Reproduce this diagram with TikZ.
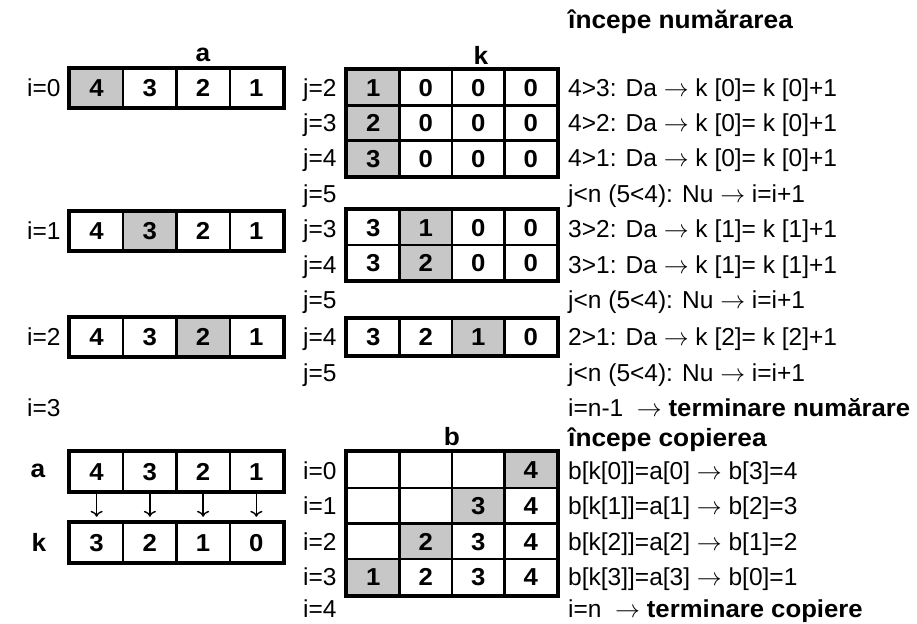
\documentclass[tikz,border=0pt]{standalone}
\usepackage{fontspec}
\setmainfont{Liberation Sans}[BoldFeatures={FakeStretch=1.05}]
\usetikzlibrary{arrows.meta}

% one row of cells: name, cell width, row height, x left, y top, value/shade list
\newcommand{\cellrow}[6]{%
  \foreach \v/\s [count=\c from 0] in {#6}
    \node[cellbox,minimum width=#2pt,minimum height=#3pt,\s]
      (#1-\c) at ({#4+(\c+0.5)*#2},{#5+0.5*#3}) {\v};
}

\tikzset{
  txt/.style={anchor=base west, inner sep=0pt, font=\fontsize{24.5}{28}\selectfont},
  ttl/.style={inner sep=0pt, font=\fontsize{25}{29}\selectfont\bfseries},
  cellbox/.style={draw, line width=2.4pt, inner sep=0pt,
    text height=17.6pt, text depth=0pt,
    font=\fontsize{24.5}{28}\selectfont\bfseries},
  hl/.style={fill=black!22},
  frame/.style={draw, line width=3.6pt},
  down/.style={line width=1.4pt, -{Computer Modern Rightarrow[length=6pt,width=12pt]},
    shorten <=2pt, shorten >=5pt},
}

\begin{document}
\begin{tikzpicture}[x=1pt,y=-1pt]
\useasboundingbox (0,0) rectangle (917,623);

% ---- counting phase ----
\node[ttl,anchor=base west] (hcount) at (568,28.5) {începe numărarea};
\node[ttl] (ta) at (203,55) {a};
\node[ttl] (tk) at (481,55) {k};

% array a for i=0,1,2
\cellrow{a0}{53.25}{38}{70}{69}{4/hl,3/,2/,1/}
\draw[frame] (a0-0.north west) rectangle (a0-3.south east);
\cellrow{a1}{53.25}{38}{70}{212}{4/,3/hl,2/,1/}
\draw[frame] (a1-0.north west) rectangle (a1-3.south east);
\cellrow{a2}{53.25}{38}{70}{318}{4/,3/,2/hl,1/}
\draw[frame] (a2-0.north west) rectangle (a2-3.south east);

% array k while counting
\cellrow{k1r0}{52.5}{35.33}{347}{70}{1/hl,0/,0/,0/}
\cellrow{k1r1}{52.5}{35.33}{347}{105.33}{2/hl,0/,0/,0/}
\cellrow{k1r2}{52.5}{35.33}{347}{140.67}{3/hl,0/,0/,0/}
\draw[frame] (k1r0-0.north west) rectangle (k1r2-3.south east);
\cellrow{k2r0}{52.5}{35}{347}{210}{3/,1/hl,0/,0/}
\cellrow{k2r1}{52.5}{35}{347}{245}{3/,2/hl,0/,0/}
\draw[frame] (k2r0-0.north west) rectangle (k2r1-3.south east);
\cellrow{k3r0}{52.5}{36}{347}{319}{3/,2/,1/hl,0/}
\draw[frame] (k3r0-0.north west) rectangle (k3r0-3.south east);

% index labels
\node[txt] (li0) at (27,96.8) {i=0};
\node[txt] (li1) at (27,239.8) {i=1};
\node[txt] (li2) at (27,345.8) {i=2};
\node[txt] (li3) at (27,416.8) {i=3};

\node[txt] (lj1) at (303,96.8) {j=2};
\node[txt] (lj2) at (303,131.8) {j=3};
\node[txt] (lj3) at (303,166.8) {j=4};
\node[txt] (lj4) at (303,202.8) {j=5};
\node[txt] (lj5) at (303,237.8) {j=3};
\node[txt] (lj6) at (303,273.8) {j=4};
\node[txt] (lj7) at (303,308.8) {j=5};
\node[txt] (lj8) at (303,345.8) {j=4};
\node[txt] (lj9) at (303,381.8) {j=5};

% counting steps
\node[txt] (s1) at (568,96.8) {4>3: Da $\rightarrow$ k [0]= k [0]+1};
\node[txt] (s2) at (568,131.8) {4>2: Da $\rightarrow$ k [0]= k [0]+1};
\node[txt] (s3) at (568,166.8) {4>1: Da $\rightarrow$ k [0]= k [0]+1};
\node[txt] (s4) at (568,202.8) {j<n (5<4): Nu $\rightarrow$ i=i+1};
\node[txt] (s5) at (568,237.8) {3>2: Da $\rightarrow$ k [1]= k [1]+1};
\node[txt] (s6) at (568,273.8) {3>1: Da $\rightarrow$ k [1]= k [1]+1};
\node[txt] (s7) at (568,308.8) {j<n (5<4): Nu $\rightarrow$ i=i+1};
\node[txt] (s8) at (568,345.8) {2>1: Da $\rightarrow$ k [2]= k [2]+1};
\node[txt] (s9) at (568,381.8) {j<n (5<4): Nu $\rightarrow$ i=i+1};
\node[txt] (s10) at (568,416.8) {i=n-1 \ $\rightarrow$ \textbf{terminare numărare}};

% ---- copying phase ----
\node[ttl,anchor=base west] (hcopy) at (568,446) {începe copierea};
\node[ttl] (tb) at (452,437) {b};

\node[ttl] (lba) at (38,471) {a};
\node[ttl] (lbk) at (39,542) {k};
\cellrow{ab}{53.25}{39}{70}{452}{4/,3/,2/,1/}
\draw[frame] (ab-0.north west) rectangle (ab-3.south east);
\cellrow{kb}{53.25}{39}{70}{523}{3/,2/,1/,0/}
\draw[frame] (kb-0.north west) rectangle (kb-3.south east);
\foreach \c in {0,...,3}
  \draw[down] (ab-\c.south) -- (kb-\c.north);

\cellrow{b0}{52.5}{35.75}{347}{452}{/,/,/,4/hl}
\cellrow{b1}{52.5}{35.75}{347}{487.75}{/,/,3/hl,4/}
\cellrow{b2}{52.5}{35.75}{347}{523.5}{/,2/hl,3/,4/}
\cellrow{b3}{52.5}{35.75}{347}{559.25}{1/hl,2/,3/,4/}
\draw[frame] (b0-0.north west) rectangle (b3-3.south east);

\node[txt] (m0) at (303,479.8) {i=0};
\node[txt] (m1) at (303,514.8) {i=1};
\node[txt] (m2) at (303,550.8) {i=2};
\node[txt] (m3) at (303,585.8) {i=3};
\node[txt] (m4) at (303,617) {i=4};

\node[txt] (c1) at (568,479.8) {b[k[0]]=a[0] $\rightarrow$ b[3]=4};
\node[txt] (c2) at (568,514.8) {b[k[1]]=a[1] $\rightarrow$ b[2]=3};
\node[txt] (c3) at (568,550.8) {b[k[2]]=a[2] $\rightarrow$ b[1]=2};
\node[txt] (c4) at (568,585.8) {b[k[3]]=a[3] $\rightarrow$ b[0]=1};
\node[txt] (c5) at (568,617) {i=n \ $\rightarrow$ \textbf{terminare copiere}};
\end{tikzpicture}
\end{document}
